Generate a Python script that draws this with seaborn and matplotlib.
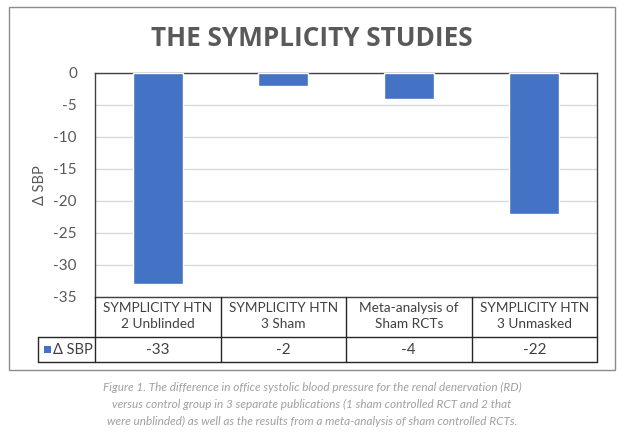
import numpy as np
import pandas as pd
import matplotlib
matplotlib.use("Agg")
import matplotlib.pyplot as plt
import matplotlib.transforms as mtransforms
from matplotlib.lines import Line2D
from matplotlib.patches import Rectangle
import seaborn as sns

# ---- data ----
categories = ["SYMPLICITY HTN\n2 Unblinded", "SYMPLICITY HTN\n3 Sham",
              "Meta-analysis of\nSham RCTs", "SYMPLICITY HTN\n3 Unmasked"]
delta_sbp = [-33, -2, -4, -22]
series_name = "Δ SBP"
y_ticks = [0, -5, -10, -15, -20, -25, -30, -35]
title = "THE SYMPLICITY STUDIES"
caption_lines = [
    "Figure 1. The difference in office systolic blood pressure for the renal denervation (RD)",
    "versus control group in 3 separate publications (1 sham controlled RCT and 2 that",
    "were unblinded) as well as the results from a meta-analysis of sham controlled RCTs.",
]

sns.set_theme(style="white")
plt.rcParams['font.family'] = ['Lato', 'DejaVu Sans']

W, H = 624, 433
fig = plt.figure(figsize=(W / 100, H / 100), dpi=100)
fig.patch.set_facecolor("white")

def fx(px):
    return px / W

def fy(py):
    return 1 - py / H

TOP, BOT, LEFT, RIGHT = 73, 297, 95, 597
ax = fig.add_axes([fx(LEFT), fy(BOT), fx(RIGHT) - fx(LEFT), (BOT - TOP) / H])

bar_color = "#4472C4"
df = pd.DataFrame({"study": categories, "value": delta_sbp})
sns.barplot(data=df, x="study", y="value", color=bar_color, width=0.4,
            saturation=1, ax=ax, zorder=3)
ax.set_xlim(-0.5, len(categories) - 0.5)
ax.set_ylim(min(y_ticks), max(y_ticks))
ax.set_yticks(y_ticks)
ax.set_yticklabels([str(t) for t in y_ticks])
ax.set_xticks([])
ax.set_xlabel("")
ax.set_ylabel("")
ax.yaxis.grid(True, color="#D9D9D9", lw=1.0, zorder=0)
ax.set_axisbelow(True)
ax.tick_params(axis="y", length=0, pad=13, labelsize=11, labelcolor="#595959")
for s in ax.spines.values():
    s.set_color("#404040")
    s.set_linewidth(1.0)

# title & y label
fig.text(0.5, fy(38), title, ha="center", va="center", fontsize=18.8,
         fontweight="bold", color="#595959", family=["Open Sans", "DejaVu Sans"])
fig.text(fx(40), fy(185), series_name, rotation=90, ha="center", va="center",
         fontsize=10.5, color="#595959")

# ---- data table ----
bt = mtransforms.blended_transform_factory(ax.transData, fig.transFigure)
line_kw = dict(color="#262626", lw=1.0)
n = len(categories)
ROW1, ROW2, ROW3 = 297, 337, 362
LBL_LEFT = 38
fig.add_artist(Line2D([fx(LBL_LEFT), fx(RIGHT)], [fy(ROW2), fy(ROW2)], transform=fig.transFigure, **line_kw))
fig.add_artist(Line2D([fx(LBL_LEFT), fx(RIGHT)], [fy(ROW3), fy(ROW3)], transform=fig.transFigure, **line_kw))
fig.add_artist(Line2D([fx(LBL_LEFT), fx(LBL_LEFT)], [fy(ROW2), fy(ROW3)], transform=fig.transFigure, **line_kw))
for i in range(n + 1):
    fig.add_artist(Line2D([i - 0.5, i - 0.5], [fy(ROW1), fy(ROW3)], transform=bt, **line_kw))

for i, (cat, v) in enumerate(zip(categories, delta_sbp)):
    fig.text(i, fy(316), cat, transform=bt, ha="center", va="center",
             fontsize=9.8, color="#404040", linespacing=1.3)
    fig.text(i, fy(349.5), str(v), transform=bt, ha="center", va="center",
             fontsize=11, color="#404040")

# legend key in row label
fig.add_artist(Rectangle((fx(44), fy(353)), fx(7), 7 / H, transform=fig.transFigure,
                         facecolor=bar_color, edgecolor="none"))
fig.text(fx(53), fy(349.5), series_name, ha="left", va="center", fontsize=10.5,
         color="#404040")

# outer chart border
fig.add_artist(Rectangle((fx(9), fy(370)), fx(615) - fx(9), (370 - 7) / H,
                         transform=fig.transFigure, facecolor="none",
                         edgecolor="#8C8C8C", lw=1.0))

# caption
for k, line in enumerate(caption_lines):
    fig.text(0.5, fy(387 + 17 * k), line, ha="center", va="center", fontsize=8.5,
             style="italic", color="#A0A0A0")

fig.savefig("out.png", dpi=100, facecolor="white")
